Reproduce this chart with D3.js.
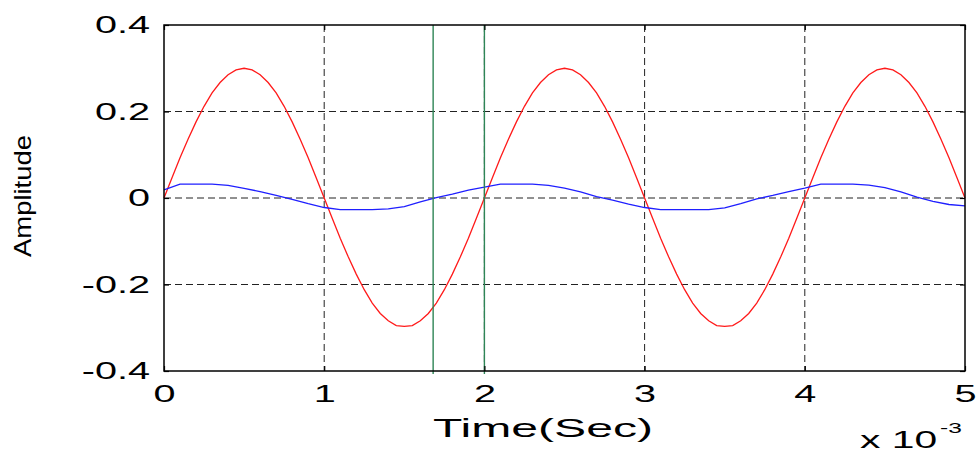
<html>
	<head>
		<meta http-equiv="Content-Type" content="text/html; charset=utf-8">
		<title>Amplitude vs Time</title>
		<style type="text/css">
			body { margin: 0; background: #fff; }
			text { font-family: "Liberation Sans", Arial, Helvetica, sans-serif; fill: #000; }
			.grid line { stroke: #222; stroke-width: 1; stroke-dasharray: 7,4; }
		</style>
		<script src="https://d3js.org/d3.v7.min.js" charset="utf-8"></script>
	</head>
	<body>
		<svg class="chart" width="980" height="454"></svg>
		<script type="text/javascript">

			// time samples (units of 1e-3 s), 0.05 apart
			var redTime = d3.range(0, 101).map(function(i) { return i * 0.05; });
			// red trace
			var redValues = [
				0, 0.047, 0.093, 0.136, 0.176, 0.212, 0.243, 0.267, 0.285, 0.296,
				0.300, 0.296, 0.285, 0.267, 0.243, 0.212, 0.176, 0.136, 0.093, 0.047,
				0, -0.047, -0.093, -0.136, -0.176, -0.212, -0.243, -0.267, -0.284, -0.295,
				-0.297, -0.295, -0.284, -0.267, -0.243, -0.212, -0.176, -0.136, -0.093, -0.047,
				0, 0.047, 0.093, 0.136, 0.176, 0.212, 0.243, 0.267, 0.285, 0.296,
				0.300, 0.296, 0.285, 0.267, 0.243, 0.212, 0.176, 0.136, 0.093, 0.047,
				0, -0.047, -0.093, -0.136, -0.176, -0.212, -0.243, -0.267, -0.284, -0.295,
				-0.297, -0.295, -0.284, -0.267, -0.243, -0.212, -0.176, -0.136, -0.093, -0.047,
				0, 0.047, 0.093, 0.136, 0.176, 0.212, 0.243, 0.267, 0.285, 0.296,
				0.300, 0.296, 0.285, 0.267, 0.243, 0.212, 0.176, 0.136, 0.093, 0.047,
				0
			];

			// blue trace, 0.1 apart
			var blueTime = d3.range(0, 51).map(function(i) { return i * 0.1; });
			var blueValues = [
				0.019, 0.032, 0.032, 0.032, 0.029, 0.022, 0.015, 0.006, -0.003, -0.013,
				-0.022, -0.027, -0.027, -0.027, -0.025, -0.020, -0.009, 0.001, 0.009, 0.018,
				0.025, 0.032, 0.032, 0.032, 0.029, 0.023, 0.014, 0.003, -0.005, -0.014,
				-0.022, -0.027, -0.027, -0.027, -0.027, -0.023, -0.013, -0.002, 0.006, 0.015,
				0.023, 0.032, 0.032, 0.032, 0.030, 0.024, 0.014, 0.002, -0.008, -0.015,
				-0.018
			];

			// green marker lines
			var markers = [1.68, 2.0];

			var xTicks = [0, 1, 2, 3, 4, 5];
			var yTicks = [-0.4, -0.2, 0, 0.2, 0.4];
			var yTickLabels = ["-0.4", "-0.2", "0", "0.2", "0.4"];

			var svg = d3.select(".chart"),
				plotLeft = 164, plotRight = 965, plotTop = 25, plotBottom = 371,
				stretch = 1.65; // text in the picture is drawn wide

			var x = d3.scaleLinear().domain([0, 5]).range([plotLeft, plotRight]);
			var y = d3.scaleLinear().domain([-0.4, 0.4]).range([plotBottom, plotTop]);

			// widen a text element horizontally, keeping its anchor
			function widen(sel, factor) {
				sel.each(function() {
					var w = this.getComputedTextLength();
					d3.select(this)
						.attr("textLength", w * factor)
						.attr("lengthAdjust", "spacingAndGlyphs");
				});
			}

			// grid
			var grid = svg.append("g").attr("class", "grid");
			grid.selectAll(".gx").data(xTicks.slice(1, -1)).enter()
				.append("line")
				.attr("x1", function(d) { return x(d); })
				.attr("x2", function(d) { return x(d); })
				.attr("y1", plotTop).attr("y2", plotBottom);
			grid.selectAll(".gy").data(yTicks.slice(1, -1)).enter()
				.append("line")
				.attr("x1", plotLeft).attr("x2", plotRight)
				.attr("y1", function(d) { return y(d); })
				.attr("y2", function(d) { return y(d); });

			var line = d3.line()
				.x(function(d) { return x(d[0]); })
				.y(function(d) { return y(d[1]); });

			svg.append("path")
				.datum(d3.zip(redTime, redValues))
				.attr("d", line)
				.attr("fill", "none")
				.attr("stroke", "#ff1a1a")
				.attr("stroke-width", 1.3);

			svg.append("path")
				.datum(d3.zip(blueTime, blueValues))
				.attr("d", line)
				.attr("fill", "none")
				.attr("stroke", "#1f1fff")
				.attr("stroke-width", 1.3);

			svg.selectAll(".marker").data(markers).enter()
				.append("line")
				.attr("class", "marker")
				.attr("x1", function(d) { return x(d); })
				.attr("x2", function(d) { return x(d); })
				.attr("y1", plotTop).attr("y2", plotBottom + 3)
				.attr("stroke", "#2e8556")
				.attr("stroke-width", 1.4);

			// box
			svg.append("rect")
				.attr("x", plotLeft).attr("y", plotTop)
				.attr("width", plotRight - plotLeft).attr("height", plotBottom - plotTop)
				.attr("fill", "none")
				.attr("stroke", "#000")
				.attr("stroke-width", 1.5);

			// axes with inward ticks
			var xAxis = d3.axisBottom(x).tickValues(xTicks).tickSize(-5).tickPadding(14)
				.tickFormat(d3.format("d"));
			svg.append("g").attr("transform", "translate(0," + plotBottom + ")").call(xAxis);
			svg.append("g").attr("transform", "translate(0," + plotTop + ")")
				.call(d3.axisTop(x).tickValues(xTicks).tickSize(-5).tickFormat(""));

			var yAxis = d3.axisLeft(y).tickValues(yTicks).tickSize(-5).tickPadding(14)
				.tickFormat(function(d, i) { return yTickLabels[i]; });
			svg.append("g").attr("transform", "translate(" + plotLeft + ",0)").call(yAxis);
			svg.append("g").attr("transform", "translate(" + plotRight + ",0)")
				.call(d3.axisRight(y).tickValues(yTicks).tickSize(-5).tickFormat(""));

			svg.selectAll(".domain").remove();
			svg.selectAll(".tick line").attr("stroke", "#000").attr("stroke-width", 1.2);
			svg.selectAll(".tick text")
				.attr("font-family", null)
				.attr("font-size", null)
				.style("font-size", "24px")
				.attr("fill", "#000")
				.call(widen, stretch);

			// labels
			svg.append("text")
				.attr("x", 543).attr("y", 437)
				.attr("text-anchor", "middle")
				.style("font-size", "26px")
				.text("Time(Sec)")
				.call(widen, 1.85);

			svg.append("text")
				.attr("x", 860).attr("y", 448)
				.style("font-size", "24px")
				.text("x 10")
				.call(widen, 1.7);

			svg.append("text")
				.attr("x", 940).attr("y", 433)
				.style("font-size", "14px")
				.text("-3")
				.call(widen, 1.75);

			svg.append("text")
				.attr("transform", "translate(31,196) rotate(-90)")
				.attr("text-anchor", "middle")
				.attr("textLength", 122)
				.attr("lengthAdjust", "spacingAndGlyphs")
				.style("font-size", "24px")
				.text("Amplitude");

		</script>
	</body>
</html>
